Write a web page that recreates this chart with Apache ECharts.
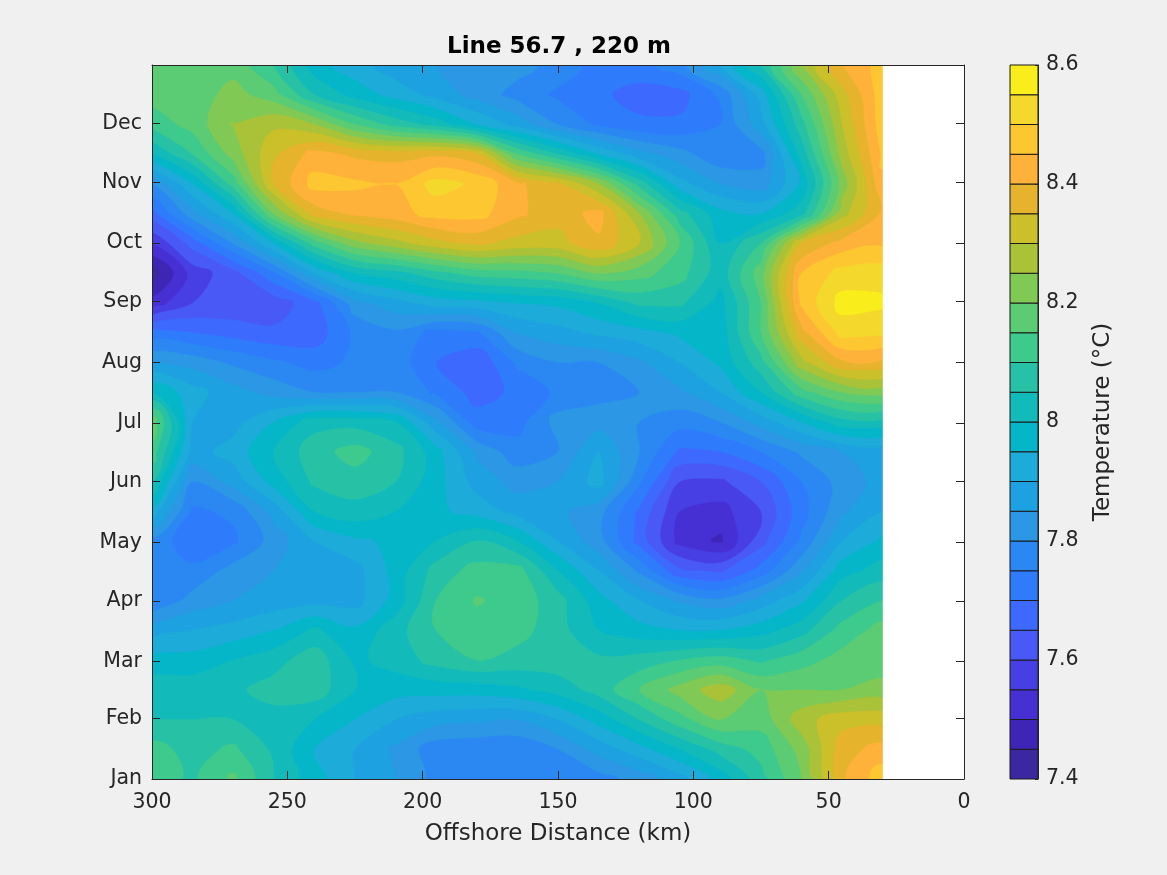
<!DOCTYPE html>
<html>
<head>
<meta charset="utf-8">
<title>Line 56.7 , 220 m</title>
<script src="https://cdn.jsdelivr.net/npm/echarts@6/dist/echarts.min.js"></script>
<style>
html, body { margin: 0; padding: 0; background: #f0f0f0; }
#main_chart { width: 1167px; height: 875px; }
</style>
</head>
<body>
<div id="main_chart"></div>
<script>
// offshore distance of each grid column, km
const distances = [300, 285, 270, 255, 240, 225, 210, 195, 180, 165, 150, 135, 120, 105, 90, 75, 60, 45, 30];
// day of year of each grid row, top row first
const rowDays = [365, 349.8, 334.6, 319.4, 304.2, 289, 273.8, 258.5, 243.3, 228.1, 212.9, 197.7, 182.5,
    167.3, 152.1, 136.9, 121.7, 106.5, 91.3, 76, 60.8, 45.6, 30.4, 15.2, 0];
// temperature, one list per row, same order as rowDays
const temperature = [
    [8.18, 8.15, 8.18, 8.10, 7.97, 7.92, 7.87, 7.85, 7.83, 7.82, 7.78, 7.73, 7.73, 7.78, 7.90, 8.05, 8.25, 8.40, 8.47],
    [8.17, 8.17, 8.22, 8.17, 8.05, 7.98, 7.93, 7.88, 7.83, 7.78, 7.74, 7.71, 7.68, 7.68, 7.76, 7.92, 8.15, 8.33, 8.48],
    [8.12, 8.17, 8.25, 8.29, 8.25, 8.15, 8.08, 8.03, 7.95, 7.88, 7.80, 7.74, 7.71, 7.71, 7.75, 7.88, 8.08, 8.30, 8.48],
    [8.00, 8.10, 8.22, 8.34, 8.42, 8.39, 8.38, 8.39, 8.36, 8.15, 8.05, 7.95, 7.87, 7.82, 7.76, 7.78, 8.02, 8.27, 8.46],
    [7.80, 7.95, 8.12, 8.35, 8.47, 8.46, 8.45, 8.52, 8.49, 8.41, 8.36, 8.25, 8.08, 7.92, 7.85, 7.82, 7.96, 8.22, 8.44],
    [7.68, 7.83, 7.95, 8.20, 8.37, 8.41, 8.43, 8.47, 8.47, 8.41, 8.37, 8.42, 8.25, 8.07, 7.97, 7.95, 8.03, 8.28, 8.41],
    [7.55, 7.67, 7.80, 7.95, 8.12, 8.23, 8.28, 8.33, 8.36, 8.33, 8.33, 8.39, 8.30, 8.15, 8.00, 8.10, 8.35, 8.42, 8.44],
    [7.42, 7.57, 7.63, 7.74, 7.90, 8.00, 8.03, 8.08, 8.12, 8.13, 8.15, 8.20, 8.17, 8.12, 8.02, 8.18, 8.45, 8.52, 8.53],
    [7.52, 7.60, 7.61, 7.62, 7.68, 7.83, 7.88, 7.92, 7.93, 7.95, 7.96, 8.00, 8.06, 8.06, 7.98, 8.15, 8.46, 8.57, 8.56],
    [7.72, 7.70, 7.68, 7.66, 7.67, 7.76, 7.79, 7.73, 7.74, 7.85, 7.88, 7.91, 7.93, 7.96, 7.97, 8.15, 8.38, 8.52, 8.51],
    [7.85, 7.83, 7.79, 7.76, 7.73, 7.76, 7.78, 7.70, 7.66, 7.76, 7.80, 7.80, 7.84, 7.90, 7.96, 8.08, 8.28, 8.39, 8.39],
    [8.00, 7.92, 7.87, 7.83, 7.80, 7.80, 7.80, 7.74, 7.68, 7.71, 7.76, 7.78, 7.80, 7.84, 7.90, 8.00, 8.13, 8.20, 8.22],
    [8.18, 7.90, 7.88, 7.95, 8.03, 8.03, 8.00, 7.86, 7.72, 7.73, 7.82, 7.83, 7.80, 7.77, 7.80, 7.87, 7.95, 8.03, 8.03],
    [8.13, 7.88, 7.92, 8.00, 8.08, 8.12, 8.07, 7.97, 7.84, 7.77, 7.80, 7.90, 7.80, 7.69, 7.70, 7.75, 7.81, 7.85, 7.87],
    [8.05, 7.80, 7.87, 7.97, 8.06, 8.08, 8.05, 7.97, 7.88, 7.83, 7.85, 7.92, 7.76, 7.60, 7.59, 7.65, 7.75, 7.82, 7.87],
    [7.93, 7.74, 7.76, 7.87, 8.00, 8.03, 8.00, 7.96, 7.93, 7.88, 7.86, 7.82, 7.69, 7.55, 7.53, 7.60, 7.73, 7.84, 7.90],
    [7.78, 7.72, 7.74, 7.82, 7.90, 7.94, 7.96, 8.00, 8.05, 8.00, 7.90, 7.82, 7.68, 7.53, 7.49, 7.63, 7.76, 7.90, 7.96],
    [7.75, 7.76, 7.82, 7.85, 7.88, 7.88, 7.97, 8.07, 8.12, 8.12, 8.00, 7.90, 7.79, 7.66, 7.64, 7.72, 7.84, 7.98, 8.02],
    [7.75, 7.82, 7.85, 7.87, 7.88, 7.88, 7.97, 8.10, 8.155, 8.13, 8.07, 7.97, 7.90, 7.84, 7.81, 7.87, 7.94, 8.05, 8.10],
    [7.88, 7.90, 7.92, 7.95, 8.01, 7.96, 8.03, 8.10, 8.13, 8.12, 8.07, 8.00, 7.97, 7.95, 7.95, 7.98, 8.03, 8.12, 8.17],
    [7.97, 7.97, 8.00, 8.03, 8.08, 7.99, 8.02, 8.07, 8.10, 8.08, 8.08, 8.06, 8.07, 8.10, 8.12, 8.09, 8.13, 8.17, 8.17],
    [8.03, 8.03, 8.04, 8.07, 8.08, 8.00, 7.97, 7.97, 7.97, 7.99, 8.02, 8.07, 8.15, 8.22, 8.28, 8.20, 8.20, 8.20, 8.22],
    [8.05, 8.05, 8.05, 8.03, 8.00, 7.95, 7.90, 7.87, 7.86, 7.85, 7.90, 7.97, 8.05, 8.13, 8.20, 8.17, 8.28, 8.33, 8.33],
    [8.12, 8.08, 8.11, 8.04, 7.95, 7.90, 7.84, 7.77, 7.76, 7.76, 7.80, 7.87, 7.93, 8.00, 8.07, 8.12, 8.22, 8.38, 8.42],
    [8.13, 8.09, 8.16, 8.05, 7.97, 7.90, 7.85, 7.78, 7.76, 7.75, 7.76, 7.78, 7.82, 7.88, 7.97, 8.08, 8.20, 8.39, 8.48]
];
const contourLevels = [7.4, 7.45, 7.5, 7.55, 7.6, 7.65, 7.7, 7.75, 7.8, 7.85, 7.9, 7.95, 8,
    8.05, 8.1, 8.15, 8.2, 8.25, 8.3, 8.35, 8.4, 8.45, 8.5, 8.55, 8.6];
const bandColors = ['#3b27a0', '#3f25b5', '#4630d4', '#473fe4', '#4859f5', '#3e69ff', '#2e7bfc', '#2b88f2',
    '#2b97e5', '#1ea1e0', '#1dabd9', '#05b6c9', '#12bab9', '#27c2a6', '#3ec98d', '#5bcb74',
    '#80c955', '#a9c238', '#cbbf2a', '#e5b32c', '#feb23a', '#fcc730', '#f5d82c', '#f9ee1c'];
const monthDays = [0, 31, 60, 91, 121, 152, 182, 213, 244, 274, 305, 335];
const monthLabels = ['Jan', 'Feb', 'Mar', 'Apr', 'May', 'Jun', 'Jul', 'Aug', 'Sep', 'Oct', 'Nov', 'Dec'];

const textColor = '#262626';
const fontName = '"DejaVu Sans"';

// the grid with a low ring around it, so that every contour is a closed loop
const ringKm = [330].concat(distances, [0]);
const ringDays = [405].concat(rowDays, [-40]);
const lowValue = -1000;

function gridValue(c, r) {
    if (r < 1 || c < 1 || r > rowDays.length || c > distances.length) return lowValue;
    return temperature[r - 1][c - 1];
}

// where the level crosses the edge between two grid nodes
function crossing(c1, r1, c2, r2, level) {
    const v1 = gridValue(c1, r1);
    const v2 = gridValue(c2, r2);
    const t = (v1 === lowValue || v2 === lowValue) ? 0.5 : (level - v1) / (v2 - v1);
    return [ringKm[c1] + (ringKm[c2] - ringKm[c1]) * t, ringDays[r1] + (ringDays[r2] - ringDays[r1]) * t];
}

function edgeKey(c1, r1, c2, r2) {
    return c1 < c2 || r1 < r2 ? c1 + '_' + r1 + '_' + c2 + '_' + r2 : c2 + '_' + r2 + '_' + c1 + '_' + r1;
}

// marching squares, loops run with the high side on one hand so holes wind the other way
function contourLoops(level) {
    const next = {};
    const points = {};
    for (let r = 0; r < ringDays.length - 1; r++) {
        for (let c = 0; c < ringKm.length - 1; c++) {
            const nodes = [[c, r], [c + 1, r], [c + 1, r + 1], [c, r + 1]];
            const hits = [];
            for (let n = 0; n < 4; n++) {
                const a = nodes[n];
                const b = nodes[(n + 1) % 4];
                const ha = gridValue(a[0], a[1]) >= level;
                const hb = gridValue(b[0], b[1]) >= level;
                if (ha !== hb) {
                    const key = edgeKey(a[0], a[1], b[0], b[1]);
                    points[key] = crossing(a[0], a[1], b[0], b[1], level);
                    hits.push({ key: key, up: hb });
                }
            }
            if (hits.length === 2) {
                const down = hits[0].up ? hits[1] : hits[0];
                const up = hits[0].up ? hits[0] : hits[1];
                next[down.key] = up.key;
            } else if (hits.length === 4) {
                const first = hits[0].up ? 0 : 1;
                const u1 = hits[first], d1 = hits[first + 1], u2 = hits[first + 2], d2 = hits[(first + 3) % 4];
                const mean = (gridValue(c, r) + gridValue(c + 1, r) + gridValue(c + 1, r + 1) + gridValue(c, r + 1)) / 4;
                if (mean >= level) {
                    next[d1.key] = u2.key;
                    next[d2.key] = u1.key;
                } else {
                    next[d1.key] = u1.key;
                    next[d2.key] = u2.key;
                }
            }
        }
    }
    const loops = [];
    const seen = {};
    Object.keys(next).forEach(function (start) {
        if (seen[start]) return;
        const loop = [];
        let key = start;
        while (key && !seen[key]) {
            seen[key] = true;
            loop.push(points[key]);
            key = next[key];
        }
        loops.push(loop);
    });
    return loops;
}

const bandLoops = bandColors.map(function (c, k) { return contourLoops(contourLevels[k]); });

// closed smooth curve through the loop, in pixels
function loopPath(loop, api) {
    const pts = [];
    loop.forEach(function (p) {
        const q = api.coord(p);
        const last = pts[pts.length - 1];
        if (!last || Math.abs(q[0] - last[0]) + Math.abs(q[1] - last[1]) > 4) pts.push(q);
    });
    const n = pts.length;
    if (n < 3) return '';
    let d = 'M' + pts[0][0].toFixed(1) + ' ' + pts[0][1].toFixed(1);
    for (let i = 0; i < n; i++) {
        const p0 = pts[(i + n - 1) % n], p1 = pts[i], p2 = pts[(i + 1) % n], p3 = pts[(i + 2) % n];
        d += 'C' + (p1[0] + (p2[0] - p0[0]) / 6).toFixed(1) + ' ' + (p1[1] + (p2[1] - p0[1]) / 6).toFixed(1) +
            ' ' + (p2[0] - (p3[0] - p1[0]) / 6).toFixed(1) + ' ' + (p2[1] - (p3[1] - p1[1]) / 6).toFixed(1) +
            ' ' + p2[0].toFixed(1) + ' ' + p2[1].toFixed(1);
    }
    return d + 'Z';
}

function renderBand(params, api) {
    const k = params.dataIndex;
    const pathData = bandLoops[k].map(function (loop) { return loopPath(loop, api); }).join('');
    if (!pathData) return null;
    return {
        type: 'path',
        shape: { pathData: pathData },
        style: { fill: bandColors[k], stroke: bandColors[k], lineWidth: 0.5 }
    };
}

// nothing was measured east of the last column
function renderNoData(params, api) {
    const low = api.coord([api.value(0), 0]);
    const high = api.coord([0, 365]);
    return {
        type: 'rect',
        shape: { x: low[0], y: high[1], width: high[0] - low[0], height: low[1] - high[1] },
        style: { fill: '#fff' }
    };
}

function renderColorBand(params, api) {
    const low = api.coord([0, api.value(1)]);
    const high = api.coord([1, api.value(2)]);
    return {
        type: 'rect',
        shape: { x: low[0], y: high[1], width: high[0] - low[0], height: low[1] - high[1] },
        style: { fill: bandColors[params.dataIndex], stroke: '#1a1a1a', lineWidth: 1 }
    };
}

const bandData = bandColors.map(function (c, k) {
    return [0, contourLevels[k], contourLevels[k + 1]];
});

const tickLine = { lineStyle: { color: textColor, width: 1 } };
const labelFont = { color: textColor, fontFamily: fontName, fontSize: 20.5 };

const myChart = echarts.init(document.getElementById('main_chart'));

var option = {
    animation: false,
    backgroundColor: '#f0f0f0',
    title: {
        text: 'Line 56.7 , 220 m',
        left: 554,
        top: 31,
        textAlign: 'center',
        textStyle: { color: '#000', fontFamily: fontName, fontSize: 23, fontWeight: 'bold' }
    },
    grid: [
        { left: 152, top: 65, width: 812, height: 714, show: true, backgroundColor: '#fff', borderWidth: 0 },
        { left: 1010, top: 65, width: 28, height: 714 }
    ],
    xAxis: [
        {
            gridIndex: 0, type: 'value', inverse: true, min: 0, max: 300, interval: 50, position: 'bottom', z: 5,
            name: 'Offshore Distance (km)', nameLocation: 'middle', nameGap: 44,
            nameTextStyle: { color: textColor, fontFamily: fontName, fontSize: 23 },
            axisLine: Object.assign({ show: true, onZero: false }, tickLine),
            axisTick: Object.assign({ show: true, inside: true, length: 8 }, tickLine),
            axisLabel: Object.assign({ margin: 13 }, labelFont),
            splitLine: { show: false }
        },
        {
            gridIndex: 0, type: 'value', inverse: true, min: 0, max: 300, interval: 50, position: 'top', z: 5,
            axisLine: Object.assign({ show: true, onZero: false }, tickLine),
            axisTick: Object.assign({ show: true, inside: true, length: 8 }, tickLine),
            axisLabel: { show: false },
            splitLine: { show: false }
        },
        {
            gridIndex: 1, type: 'value', min: 0, max: 1, show: false
        }
    ],
    yAxis: [
        {
            gridIndex: 0, type: 'value', min: 0, max: 365, position: 'left', z: 5,
            axisLine: Object.assign({ show: true, onZero: false }, tickLine),
            axisTick: Object.assign({ show: true, inside: true, length: 8, customValues: monthDays }, tickLine),
            axisLabel: Object.assign({
                margin: 10,
                customValues: monthDays,
                formatter: function (v) { return monthLabels[monthDays.indexOf(v)]; }
            }, labelFont),
            splitLine: { show: false }
        },
        {
            gridIndex: 0, type: 'value', min: 0, max: 365, position: 'right', z: 5,
            axisLine: Object.assign({ show: true, onZero: false }, tickLine),
            axisTick: Object.assign({ show: true, inside: true, length: 8, customValues: monthDays }, tickLine),
            axisLabel: { show: false },
            splitLine: { show: false }
        },
        {
            gridIndex: 1, type: 'value', min: 7.4, max: 8.6, interval: 0.2, position: 'right', z: 5,
            name: 'Temperature (°C)', nameLocation: 'middle', nameRotate: 90, nameGap: 54,
            nameTextStyle: { color: textColor, fontFamily: fontName, fontSize: 23 },
            axisLine: Object.assign({ show: true, onZero: false }, tickLine),
            axisTick: Object.assign({ show: true, inside: true, length: 3 }, tickLine),
            axisLabel: Object.assign({
                margin: 8,
                formatter: function (v) { return String(Math.round(v * 10) / 10); }
            }, labelFont),
            splitLine: { show: false }
        }
    ],
    series: [
        {
            name: 'Temperature',
            type: 'custom',
            xAxisIndex: 0,
            yAxisIndex: 0,
            coordinateSystem: 'cartesian2d',
            renderItem: renderBand,
            clip: true,
            silent: true,
            data: bandData
        },
        {
            name: 'No data',
            type: 'custom',
            xAxisIndex: 0,
            yAxisIndex: 0,
            coordinateSystem: 'cartesian2d',
            renderItem: renderNoData,
            silent: true,
            z: 3,
            data: [[distances[distances.length - 1], 0]]
        },
        {
            name: 'Colorbar',
            type: 'custom',
            xAxisIndex: 2,
            yAxisIndex: 2,
            coordinateSystem: 'cartesian2d',
            renderItem: renderColorBand,
            silent: true,
            data: bandData
        }
    ]
};

myChart.setOption(option);
window.onresize = function() {
    myChart.resize();
};
</script>
</body>
</html>
